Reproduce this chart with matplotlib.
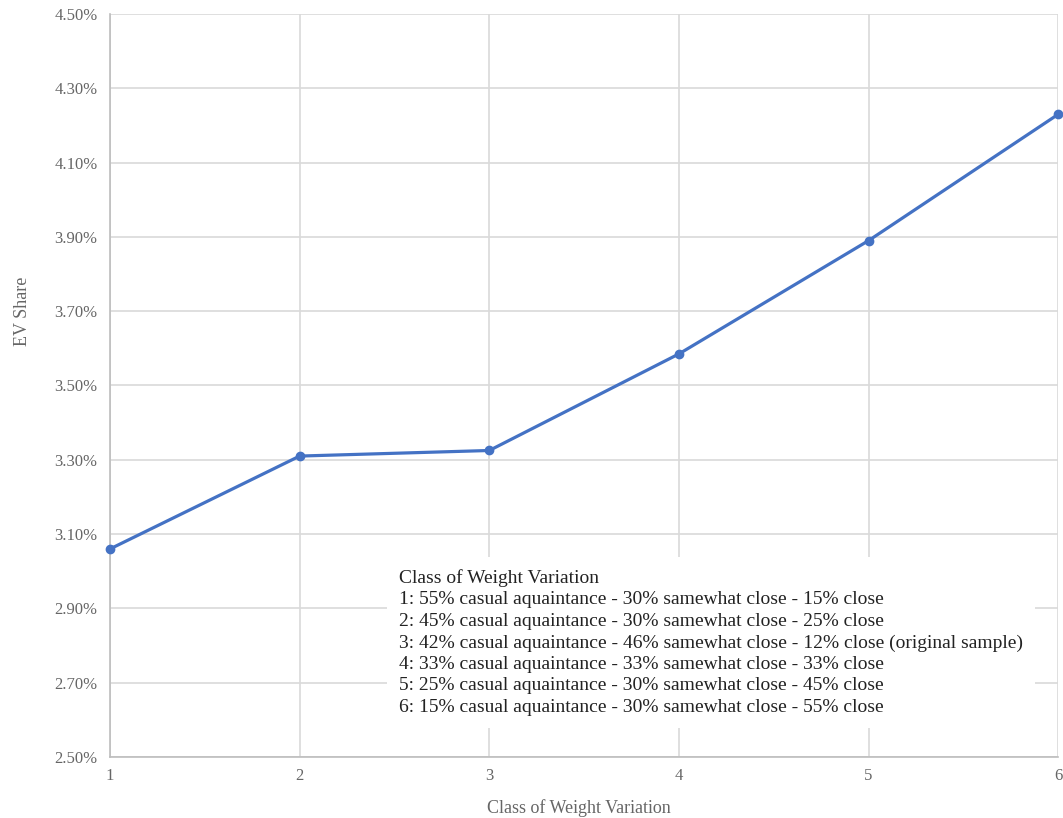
import matplotlib.pyplot as plt
from matplotlib.ticker import FuncFormatter

plt.rcParams['font.family'] = ['Liberation Serif', 'DejaVu Serif']

# data
weight_class = [1, 2, 3, 4, 5, 6]
ev_share = [3.06, 3.31, 3.325, 3.585, 3.89, 4.23]

legend_lines = [
    "Class of Weight Variation",
    "1: 55% casual aquaintance - 30% samewhat close - 15% close",
    "2: 45% casual aquaintance - 30% samewhat close - 25% close",
    "3: 42% casual aquaintance - 46% samewhat close - 12% close (original sample)",
    "4: 33% casual aquaintance - 33% samewhat close - 33% close",
    "5: 25% casual aquaintance - 30% samewhat close - 45% close",
    "6: 15% casual aquaintance - 30% samewhat close - 55% close",
]

fig = plt.figure(figsize=(10.63, 8.18), dpi=100)
ax = fig.add_axes([0.1035, 0.0746, 0.892, 0.9083])

ax.plot(weight_class, ev_share, color='#4472C4', linewidth=2.3,
        marker='o', markersize=6, zorder=3, clip_on=False)

ax.set_xlim(1, 6)
ax.set_ylim(2.5, 4.5)
ax.set_xticks(weight_class)
ax.set_yticks([2.5, 2.7, 2.9, 3.1, 3.3, 3.5, 3.7, 3.9, 4.1, 4.3, 4.5])
ax.yaxis.set_major_formatter(FuncFormatter(lambda v, p: f"{v:.2f}%"))

ax.grid(True, color='#d9d9d9', linewidth=1.2)
ax.set_axisbelow(True)
for s in ['top', 'right']:
    ax.spines[s].set_visible(False)
for s in ['left', 'bottom']:
    ax.spines[s].set_color('#bdbdbd')
    ax.spines[s].set_linewidth(1.2)

ax.tick_params(axis='both', length=0, labelsize=12, labelcolor='#666666')
ax.tick_params(axis='y', pad=9)
ax.tick_params(axis='x', pad=8)

ax.set_xlabel("Class of Weight Variation", fontsize=13, color='#666666', labelpad=11)
ax.set_ylabel("EV Share", fontsize=13, color='#666666', labelpad=17)
ax.xaxis.label.set_x(0.494)
ax.yaxis.label.set_y(0.60)

fig.text(399 / 1063, 1 - 569 / 818, "\n".join(legend_lines),
         fontsize=14, color='#222222', va='top', ha='left', linespacing=1.34,
         bbox=dict(facecolor='white', edgecolor='none', pad=9), zorder=5)

fig.savefig("out.png", dpi=100)
